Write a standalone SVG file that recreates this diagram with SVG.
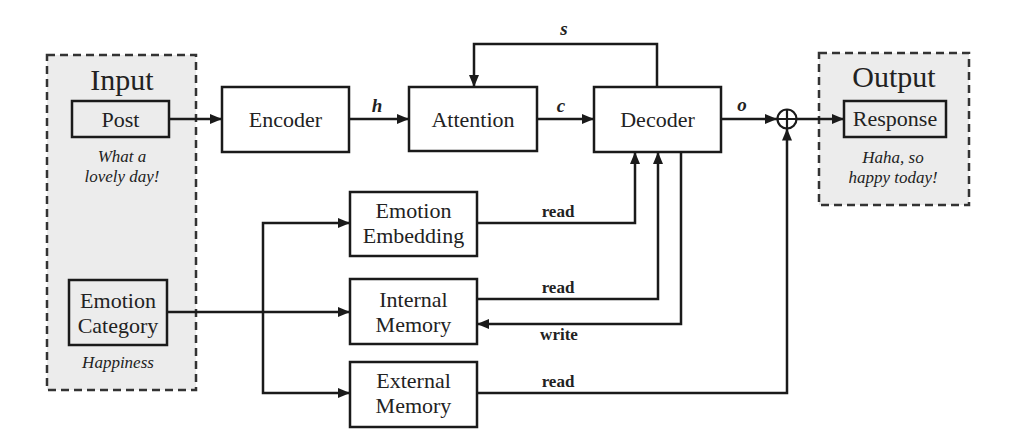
<svg xmlns="http://www.w3.org/2000/svg" width="1025" height="445" viewBox="0 0 1025 445">
<defs>
<marker id="arr" markerUnits="userSpaceOnUse" markerWidth="13" markerHeight="11" refX="12" refY="5" orient="auto">
<path d="M0,0 L12,5 L0,10 z" fill="#1a1a1a"/>
</marker>
<style>
.grp{fill:#ececec;stroke:#333;stroke-width:2.5;stroke-dasharray:8 5}
.box{fill:#fff;stroke:#1a1a1a;stroke-width:2.5}
.ibox{fill:none;stroke:#1a1a1a;stroke-width:2.5}
.c{fill:none;stroke:#1a1a1a;stroke-width:2.5}
.ca{fill:none;stroke:#1a1a1a;stroke-width:2.5;marker-end:url(#arr)}
text{font-family:"Liberation Serif","Times New Roman",serif;fill:#222;text-anchor:middle}
.t{font-size:22px}
.big{font-size:30px}
.it{font-size:17px;font-style:italic}
.lb{font-size:17px;font-weight:bold}
.v{font-size:19px;font-weight:bold;font-style:italic}
</style>
</defs>
<rect width="1025" height="445" fill="#fff"/>
<g id="input">
<rect class="grp" x="47" y="55" width="149" height="335"/>
<text class="big" x="122" y="90">Input</text>
</g>
<g id="post">
<rect class="ibox" x="72" y="101" width="97" height="36"/>
<text class="t" x="120.5" y="127">Post</text>
<text class="it" x="122" y="162">What a</text>
<text class="it" x="122" y="182">lovely day!</text>
</g>
<g id="emotion-category">
<rect class="ibox" x="69" y="280" width="98" height="65"/>
<text class="t" x="118" y="308">Emotion</text>
<text class="t" x="118" y="333">Category</text>
<text class="it" x="118" y="368">Happiness</text>
</g>
<g id="encoder">
<rect class="box" x="222" y="87" width="127" height="65"/>
<text class="t" x="285.5" y="127">Encoder</text>
</g>
<g id="attention">
<rect class="box" x="409" y="87" width="128" height="64"/>
<text class="t" x="473" y="127">Attention</text>
</g>
<g id="decoder">
<rect class="box" x="594" y="87" width="127" height="65"/>
<text class="t" x="657.5" y="127">Decoder</text>
</g>
<g id="emotion-embedding">
<rect class="box" x="350" y="192" width="127" height="64"/>
<text class="t" x="413.5" y="218">Emotion</text>
<text class="t" x="413.5" y="243">Embedding</text>
</g>
<g id="internal-memory">
<rect class="box" x="350" y="279" width="127" height="65"/>
<text class="t" x="413.5" y="307">Internal</text>
<text class="t" x="413.5" y="332">Memory</text>
</g>
<g id="external-memory">
<rect class="box" x="350" y="362" width="127" height="65"/>
<text class="t" x="413.5" y="388">External</text>
<text class="t" x="413.5" y="413">Memory</text>
</g>
<g id="output">
<rect class="grp" x="819" y="53" width="150" height="152"/>
<text class="big" x="894" y="87">Output</text>
</g>
<g id="response">
<rect class="ibox" x="844" y="101" width="102" height="36"/>
<text class="t" x="895" y="126">Response</text>
<text class="it" x="893" y="163">Haha, so</text>
<text class="it" x="893" y="183">happy today!</text>
</g>
<g id="sum">
<circle cx="787" cy="119" r="9.5" fill="#fff" stroke="#1a1a1a" stroke-width="2.2"/>
<path d="M777.5,119 H796.5 M787,109.5 V128.5" stroke="#1a1a1a" stroke-width="2.2" fill="none"/>
</g>
<g id="connectors">
<path class="ca" d="M169,119 H222"/>
<path class="ca" d="M349,119 H409"/>
<path class="ca" d="M537,119 H594"/>
<path class="ca" d="M721,119 H777"/>
<path class="ca" d="M797,119 H844"/>
<path class="ca" d="M657,87 V44 H474 V87"/>
<path class="ca" d="M477,223 H635 V152"/>
<path class="ca" d="M477,299 H658 V152"/>
<path class="ca" d="M681,152 V324 H477"/>
<path class="ca" d="M477,393 H787 V128.5"/>
<path class="ca" d="M167,312 H350"/>
<path class="ca" d="M263,312 V223 H350"/>
<path class="ca" d="M263,312 V393 H350"/>
<text class="v" x="377" y="112">h</text>
<text class="v" x="561" y="112">c</text>
<text class="v" x="742" y="111">o</text>
<text class="v" x="564" y="35">s</text>
<text class="lb" x="558" y="217">read</text>
<text class="lb" x="558" y="293">read</text>
<text class="lb" x="559" y="340">write</text>
<text class="lb" x="558" y="387">read</text>
</g>
</svg>
